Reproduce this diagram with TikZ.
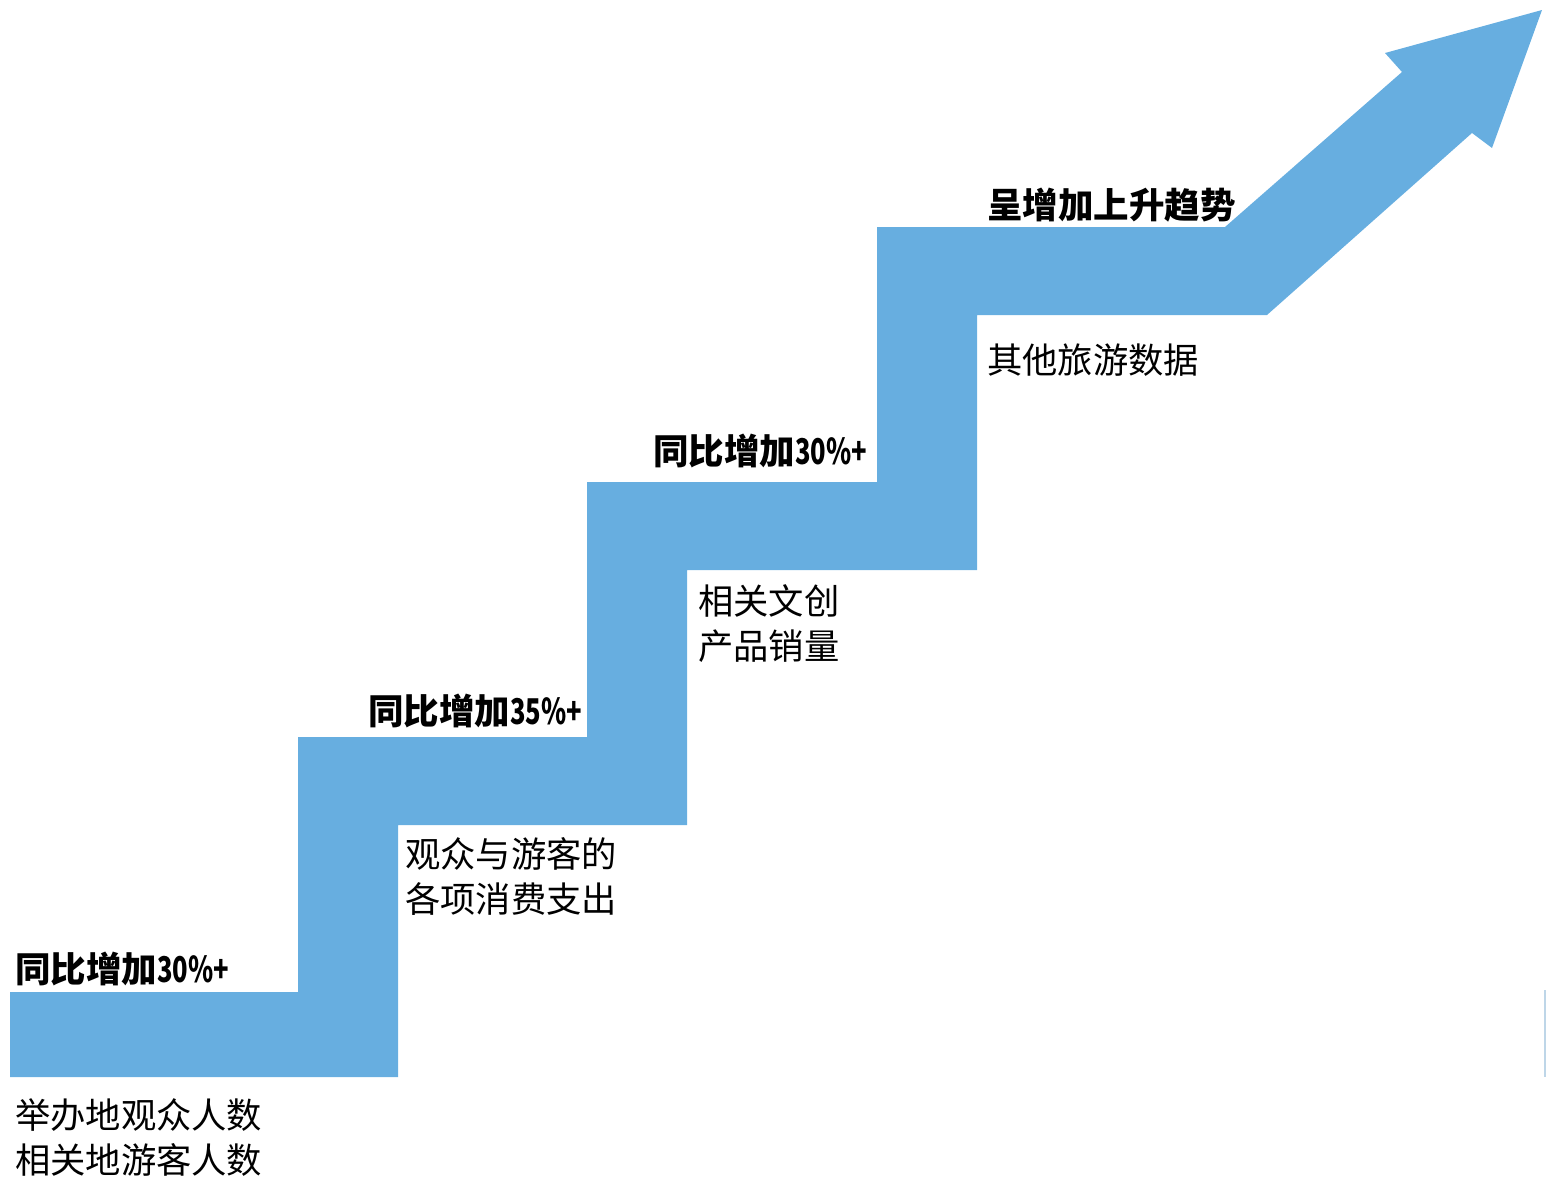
\documentclass[tikz,border=0pt]{standalone}
\usepackage{fontspec}
\usepackage{graphicx}
\newfontfamily\cjk{Noto Sans CJK SC}
\definecolor{stairblue}{RGB}{103,174,224}
\definecolor{edgeline}{RGB}{190,214,232}
\newcommand{\narrow}[1]{\scalebox{0.72}[1]{#1}}
\tikzset{
  boldlabel/.style={anchor=west, inner sep=0pt, font=\cjk\bfseries\fontsize{35.5}{45}\selectfont},
  desclabel/.style={anchor=west, inner sep=0pt, align=left, font=\cjk\fontsize{35.3}{45}\selectfont},
}
\begin{document}
\begin{tikzpicture}[x=1pt,y=-1pt]
\useasboundingbox (0,0) rectangle (1553,1192);
% staircase arrow
\fill[stairblue] (10,992) -- (298,992) -- (298,737) -- (587,737) -- (587,482)
  -- (877,482) -- (877,227) -- (1225,227) -- (1402,72) -- (1385,53)
  -- (1542,10) -- (1492,148) -- (1472,133) -- (1267,315) -- (977,315)
  -- (977,570) -- (687,570) -- (687,825) -- (398,825) -- (398,1077)
  -- (10,1077) -- cycle;
\draw[edgeline, line width=2pt] (1545,990) -- (1545,1077);
% labels
\node[boldlabel] (l1) at (15,969) {同比增加\narrow{30\%+}};
\node[desclabel] (d1) at (15,1138) {举办地观众人数\\相关地游客人数};
\node[boldlabel] (l2) at (368,711) {同比增加\narrow{35\%+}};
\node[desclabel] (d2) at (405,876) {观众与游客的\\各项消费支出};
\node[boldlabel] (l3) at (653,451) {同比增加\narrow{30\%+}};
\node[desclabel] (d3) at (698,624) {相关文创\\产品销量};
\node[boldlabel] (l4) at (987,205) {呈增加上升趋势};
\node[desclabel] (d4) at (987,360) {其他旅游数据};
\end{tikzpicture}
\end{document}
